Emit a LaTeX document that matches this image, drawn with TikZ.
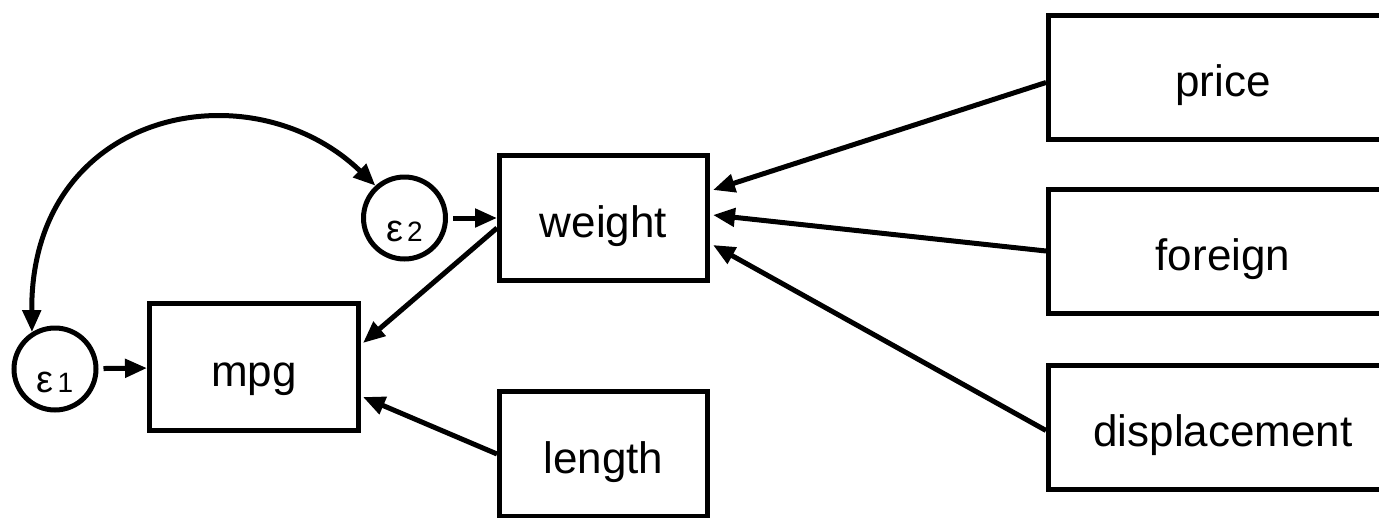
\documentclass[tikz,border=0pt]{standalone}
\usepackage{fontspec}
\setmainfont{Liberation Sans}
\usetikzlibrary{arrows.meta,calc}
\begin{document}
\begin{tikzpicture}[x=1pt,y=-1pt,
  box/.style={draw,line width=5pt,rectangle,inner sep=0pt,text height=38pt,text depth=0pt,font=\fontsize{44}{50}\selectfont},
  err/.style={draw,line width=5pt,circle,minimum size=82pt,inner sep=0pt,text height=46pt,text depth=0pt},
  tipa/.tip={Triangle[length=22pt,width=18pt]},
  conn/.style={line width=5pt,-tipa},
]
\useasboundingbox (0,0) rectangle (1379,517);
\newcommand{\eps}[1]{{\fontsize{38}{38}\selectfont ε}\hspace{4pt}{\fontsize{28}{28}\selectfont #1}}

\node[box,minimum width=209pt,minimum height=127pt] (mpg) at (254,367) {mpg};
\node[box,minimum width=208pt,minimum height=125pt] (weight) at (603.5,218) {weight};
\node[box,minimum width=208pt,minimum height=125pt] (length) at (603.5,454) {length};
\node[box,minimum width=349pt,minimum height=124pt] (price) at (1223,77.5) {price};
\node[box,minimum width=349pt,minimum height=124pt] (foreign) at (1223,251) {foreign};
\node[box,minimum width=349pt,minimum height=124pt] (displacement) at (1223,427.5) {displacement};
\node[err] (e1) at (55,369) {\eps{1}};
\node[err] (e2) at (404.5,218) {\eps{2}};

\draw[conn,shorten <=5pt] (e1) -- (mpg);
\draw[conn,shorten <=5pt] (e2) -- (weight);
\draw[conn] ($(weight.west)+(0,10)$) -- ($(mpg.east)+(2,-24)$);
\draw[conn] (length.west) -- ($(mpg.east)+(2,30)$);
\draw[conn] ($(price.west)+(0,5)$) -- ($(weight.east)+(3,-28)$);
\draw[conn] (foreign.west) -- ($(weight.east)+(3,-3)$);
\draw[conn] ($(displacement.west)+(0,3)$) -- ($(weight.east)+(3,27)$);
\draw[line width=5pt,tipa-tipa] (e1.122) .. controls (30,110) and (250,65) .. (e2.132);
\end{tikzpicture}
\end{document}
